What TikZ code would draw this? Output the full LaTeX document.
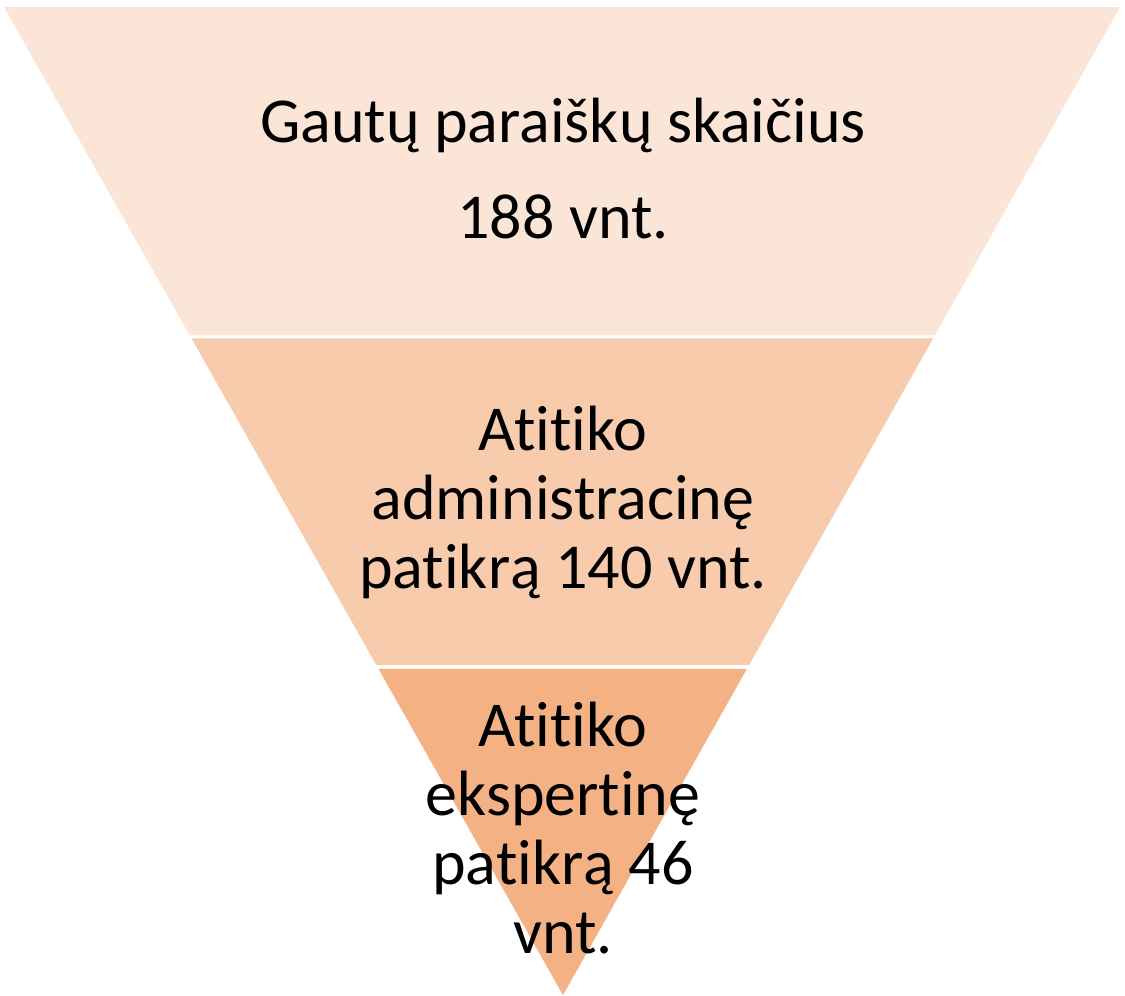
\documentclass[tikz,border=0pt]{standalone}
\usepackage{fontspec}
\setmainfont[Ligatures={NoCommon}]{Carlito}
\usetikzlibrary{calc}
\definecolor{bandA}{HTML}{FBE5D6}
\definecolor{bandB}{HTML}{F8CBAD}
\definecolor{bandC}{HTML}{F4B183}
\tikzset{
  lbl/.style={align=center, inner sep=0pt, anchor=base, font=\fontsize{64}{69}\selectfont, text=black}
}
\begin{document}
\begin{tikzpicture}[x=1pt,y=-1pt]
\useasboundingbox (0,0) rectangle (1125,996);
\coordinate (TL) at (4,7);
\coordinate (TR) at (1120,7);
\coordinate (AP) at (563,995);
% band 1
\fill[bandA] (TL) -- (TR) -- ($(TR)!0.332!(AP)$) -- ($(TL)!0.332!(AP)$) -- cycle;
% band 2
\fill[bandB] ($(TL)!0.3355!(AP)$) -- ($(TR)!0.3355!(AP)$) -- ($(TR)!0.666!(AP)$) -- ($(TL)!0.666!(AP)$) -- cycle;
% band 3
\fill[bandC] ($(TL)!0.670!(AP)$) -- ($(TR)!0.670!(AP)$) -- (AP) -- cycle;
\node[lbl] (t1) at (563,238) {Gautų paraiškų skaičius\\[27pt]188 vnt.};
\node[lbl] (t2) at (563,588) {Atitiko\\administracinę\\patikrą 140 vnt.};
\node[lbl] (t3) at (563,953) {Atitiko\\ekspertinę\\patikrą 46\\vnt.};
\end{tikzpicture}
\end{document}
